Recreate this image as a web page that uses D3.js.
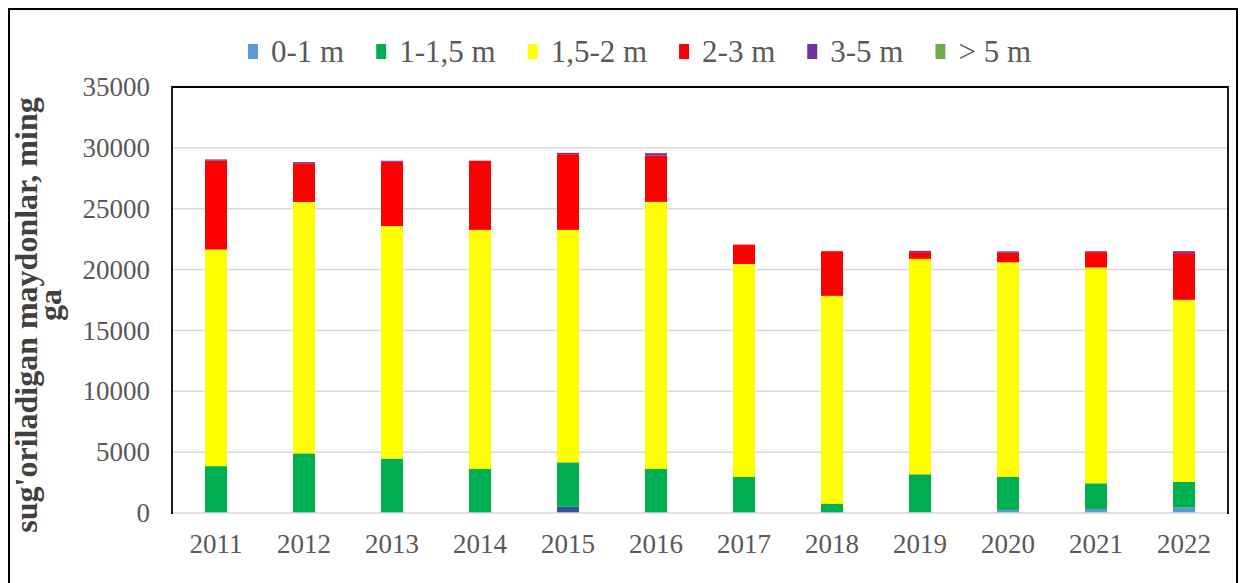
<!DOCTYPE html>
<html>
<head>
<meta charset="utf-8">
<script src="https://cdn.jsdelivr.net/npm/d3@7"></script>
<style>
  html, body { margin: 0; padding: 0; background: #fff; }
  svg { display: block; }
</style>
</head>
<body>
<svg id="chart" width="1245" height="583"></svg>
<script>
// ---- data ----
const years = ["2011","2012","2013","2014","2015","2016","2017","2018","2019","2020","2021","2022"];
const seriesNames = ["0-1 m", "1-1,5 m", "1,5-2 m", "2-3 m", "3-5 m", "> 5 m"];
const seriesColors = ["#5B9BD5", "#00B050", "#FFFF00", "#FF0000", "#7030A0", "#70AD47"];
// unlabeled dark-blue segment seen only at the bottom of 2015
const extraValues = [0, 0, 0, 0, 550, 0, 0, 0, 0, 0, 0, 0];
const extraColor = "#2F5597";
const v0_1   = [0, 0, 0, 0, 0, 0, 0, 0, 80, 250, 330, 440];
const v1_15  = [3850, 4900, 4470, 3620, 3610, 3620, 2960, 740, 3100, 2710, 2110, 2110];
const v15_2  = [17800, 20650, 19100, 19640, 19100, 21940, 17500, 17100, 17700, 17640, 17730, 14960];
const v2_3   = [7300, 3180, 5290, 5670, 6220, 3810, 1590, 3670, 550, 790, 1260, 3840];
const v3_5   = [100, 100, 80, 20, 110, 190, 0, 0, 110, 110, 80, 160];
const v5p    = [0, 0, 0, 0, 0, 0, 0, 0, 0, 0, 0, 0];
const yTicks = [0, 5000, 10000, 15000, 20000, 25000, 30000, 35000];
const yTitleLines = ["sug'oriladigan maydonlar, ming", "ga"];

// ---- build table ----
const keys = ["extra", ...seriesNames];
const colorOf = { extra: extraColor };
seriesNames.forEach((n, i) => colorOf[n] = seriesColors[i]);
const allVals = [extraValues, v0_1, v1_15, v15_2, v2_3, v3_5, v5p];
const table = years.map((y, i) => {
  const row = { year: y };
  keys.forEach((k, j) => row[k] = allVals[j][i]);
  return row;
});
const stacked = d3.stack().keys(keys)(table);

// ---- layout ----
const svg = d3.select("#chart");
const plot = { left: 172, right: 1228, top: 87, bottom: 513 };
const x = d3.scaleBand().domain(years).range([plot.left, plot.right]).paddingInner(0.75).paddingOuter(0.375);
const y = d3.scaleLinear().domain([0, 35000]).range([plot.bottom, plot.top]);
const serif = "'Liberation Serif', 'Times New Roman', serif";

// outer frame
svg.append("rect").attr("x", 9).attr("y", 9).attr("width", 1228).attr("height", 590)
  .attr("fill", "none").attr("stroke", "#000").attr("stroke-width", 2);

// gridlines
svg.append("g").selectAll("line").data(yTicks.filter(t => t > 0 && t < 35000)).join("line")
  .attr("x1", plot.left).attr("x2", plot.right)
  .attr("y1", d => y(d)).attr("y2", d => y(d))
  .attr("stroke", "#d9d9d9").attr("stroke-width", 1.5);

// bars
svg.append("g").selectAll("g").data(stacked).join("g")
  .attr("fill", d => colorOf[d.key])
  .selectAll("rect").data(d => d).join("rect")
  .attr("x", d => x(d.data.year))
  .attr("width", x.bandwidth())
  .attr("y", d => y(d[1]))
  .attr("height", d => Math.max(0, y(d[0]) - y(d[1])));

// bottom axis line (gray)
svg.append("line").attr("x1", plot.left).attr("x2", plot.right)
  .attr("y1", plot.bottom).attr("y2", plot.bottom)
  .attr("stroke", "#d9d9d9").attr("stroke-width", 1.5);

// plot border (left, top, right)
svg.append("path")
  .attr("d", `M${plot.left},${plot.bottom + 1}V${plot.top}H${plot.right}V${plot.bottom + 1}`)
  .attr("fill", "none").attr("stroke", "#000").attr("stroke-width", 1.8);

// y axis labels
const yAxis = d3.axisLeft(y).tickValues(yTicks).tickSize(0).tickPadding(22).tickFormat(d3.format("d"));
const gy = svg.append("g").attr("transform", `translate(${plot.left},0)`).call(yAxis);
gy.select(".domain").remove();
gy.selectAll("text").attr("font-family", serif).attr("font-size", 27).attr("fill", "#595959");

// x axis labels
const xAxis = d3.axisBottom(x).tickSize(0).tickPadding(21);
const gx = svg.append("g").attr("transform", `translate(0,${plot.bottom})`).call(xAxis);
gx.select(".domain").remove();
gx.selectAll("text").attr("font-family", serif).attr("font-size", 27).attr("fill", "#595959");

// y title
const yt = svg.append("text")
  .attr("transform", "translate(37,315) rotate(-90)")
  .attr("text-anchor", "middle")
  .attr("font-family", serif).attr("font-weight", "bold").attr("font-size", 32).attr("fill", "#404040");
yTitleLines.forEach((l, i) => yt.append("tspan").attr("x", i === 0 ? 0 : 10).attr("dy", i === 0 ? 0 : 24).text(l));

// legend
const lg = svg.append("g");
let lx = 248;
seriesNames.forEach((n, i) => {
  lg.append("rect").attr("x", lx).attr("y", 44).attr("width", 10).attr("height", 15).attr("fill", seriesColors[i]);
  const t = lg.append("text").attr("x", lx + 23).attr("y", 62)
    .attr("font-family", serif).attr("font-size", 31).attr("fill", "#595959").text(n);
  lx += 23 + t.node().getComputedTextLength() + 32;
});
</script>
</body>
</html>
